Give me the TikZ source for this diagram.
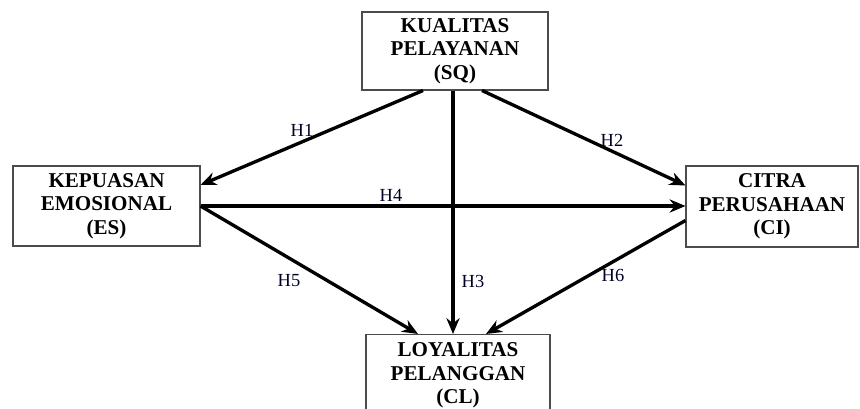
\documentclass[tikz,border=0pt]{standalone}
\usepackage{fontspec}
\setmainfont{Liberation Serif}
\usepackage{tikz}
\usetikzlibrary{arrows.meta, positioning}
\tikzset{
Construct/.style={
	draw=black!70, line width=0.6pt,
	align=center,
	font=\bfseries\fontsize{12}{13.4}\selectfont,
	inner sep=0pt
},
Path/.style={
	draw=black, line width=1.9pt,
	-{Stealth[length=9pt, width=7.5pt]}
},
HLabel/.style={
	font=\fontsize{10.5}{12}\selectfont,
	text=black!85!blue
}
}

\begin{document}
\begin{tikzpicture}
	\useasboundingbox (0,0) rectangle (17.2,-8.18);
	\clip (0,0) rectangle (17.2,-8.18);

	\node[Construct, minimum width=3.72cm, minimum height=1.56cm] (SQ) at (9.1,-1.02) {KUALITAS\\PELAYANAN\\(SQ)};
	\node[Construct, minimum width=3.74cm, minimum height=1.6cm] (ES) at (2.13,-4.12) {KEPUASAN\\EMOSIONAL\\(ES)};
	\node[Construct, minimum width=3.44cm, minimum height=1.62cm] (CI) at (15.44,-4.13) {CITRA\\PERUSAHAAN\\(CI)};
	\node[Construct, minimum width=3.68cm, minimum height=1.64cm, anchor=north] (CL) at (9.16,-6.68) {LOYALITAS\\PELANGGAN\\(CL)};

	\draw[Path] ([xshift=-0.64cm]SQ.south) -- ([yshift=0.42cm]ES.east);
	\draw[Path] ([xshift=0.54cm]SQ.south) -- ([yshift=0.42cm]CI.west);
	\draw[Path] ([xshift=-0.04cm]SQ.south) -- ([xshift=-0.04cm]SQ.south |- CL.north);
	\draw[Path] (ES.east) -- (ES.east -| CI.west);
	\draw[Path] (ES.east) -- ([xshift=-0.8cm]CL.north);
	\draw[Path] ([yshift=-0.28cm]CI.west) -- ([xshift=0.56cm]CL.north);

	\node[HLabel] (h1) at (6.04,-2.6) {H1};
	\node[HLabel] (h2) at (12.24,-2.8) {H2};
	\node[HLabel] (h3) at (9.46,-5.62) {H3};
	\node[HLabel] (h4) at (7.82,-3.9) {H4};
	\node[HLabel] (h5) at (5.78,-5.62) {H5};
	\node[HLabel] (h6) at (12.26,-5.5) {H6};
\end{tikzpicture}
\end{document}
